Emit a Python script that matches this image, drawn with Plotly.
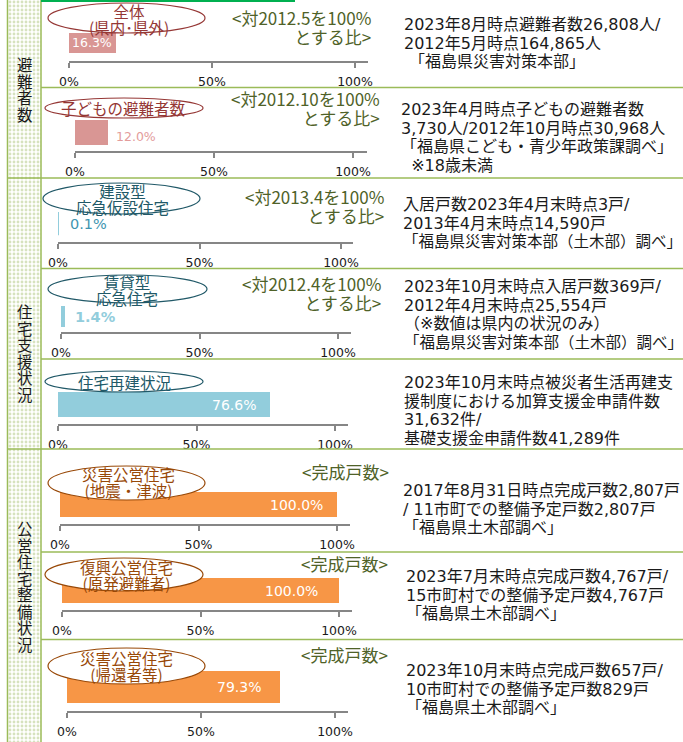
import plotly.graph_objects as go

W, H = 683, 742

# ---------------- data ----------------
panel_names = [
    "全体（県内・県外）", "子どもの避難者数", "建設型応急仮設住宅", "賃貸型応急住宅",
    "住宅再建状況", "災害公営住宅（地震・津波）", "復興公営住宅（原発避難者）", "災害公営住宅（帰還者等）",
]
ratio_pct = [16.3, 12.0, 0.1, 1.4, 76.6, 100.0, 100.0, 79.3]

badge_lines = [
    ["全体", "(県内･県外)"],
    ["子どもの避難者数"],
    ["建設型", "応急仮設住宅"],
    ["賃貸型", "応急住宅"],
    ["住宅再建状況"],
    ["災害公営住宅", "(地震・津波)"],
    ["復興公営住宅", "(原発避難者)"],
    ["災害公営住宅", "(帰還者等)"],
]
basis_lines = [
    ["&lt;対2012.5を100%", "とする比&gt;"],
    ["&lt;対2012.10を100%", "とする比&gt;"],
    ["&lt;対2013.4を100%", "とする比&gt;"],
    ["&lt;対2012.4を100%", "とする比&gt;"],
    [],
    ["&lt;完成戸数&gt;"],
    ["&lt;完成戸数&gt;"],
    ["&lt;完成戸数&gt;"],
]
tick_vals = [0, 50, 100]
tick_text = ["0%", "50%", "100%"]

group_titles = ["避難者数", "住宅支援状況", "公営住宅整備状況"]

note_lines = [
    ["2023年8月時点避難者数26,808人/", "2012年5月時点164,865人", "「福島県災害対策本部」"],
    ["2023年4月時点子どもの避難者数", "3,730人/2012年10月時点30,968人",
     "「福島県こども・青少年政策課調べ」", "※18歳未満"],
    ["入居戸数2023年4月末時点3戸/", "2013年4月末時点14,590戸", "「福島県災害対策本部（土木部）調べ」"],
    ["2023年10月末時点入居戸数369戸/", "2012年4月末時点25,554戸",
     "（※数値は県内の状況のみ）", "「福島県災害対策本部（土木部）調べ」"],
    ["2023年10月末時点被災者生活再建支", "援制度における加算支援金申請件数",
     "31,632件/", "基礎支援金申請件数41,289件"],
    ["2017年8月31日時点完成戸数2,807戸", "/ 11市町での整備予定戸数2,807戸", "「福島県土木部調べ」"],
    ["2023年7月末時点完成戸数4,767戸/", "15市町村での整備予定戸数4,767戸", "「福島県土木部調べ」"],
    ["2023年10月末時点完成戸数657戸/", "10市町村での整備予定戸数829戸", "「福島県土木部調べ」"],
]

# ---------------- layout / style ----------------
CJK = "Noto Sans CJK JP"
MIXED = "DejaVu Sans, Noto Sans CJK JP"
GREEN = "#9bbb59"
AXIS_GRAY = "#868686"
TEXT = "#1a1a1a"
OLIVE = "#4f6228"
NBSP = "\u00a0"

themes = {
    "evac": dict(bar="#d99694", badge="#953735"),
    "house": dict(bar="#92cddc", badge="#215968"),
    "public": dict(bar="#f79646", badge="#984807"),
}
panel_theme = ["evac", "evac", "house", "house", "house", "public", "public", "public"]

# pixel geometry: 0% x, 100% x, axis end x, bar top, bar bottom, axis y
geom = [
    (69, 355, 368, 33, 53, 61),
    (75, 353, 367, 120, 145, 151),
    (58, 341, 353, 212, 236, 242),
    (61, 338, 351, 306, 327, 332),
    (58, 335, 348, 392, 417, 424),
    (60, 337, 350, 492, 517, 524),
    (62, 339, 352, 578, 603, 610),
    (67, 335, 348, 671, 703, 711),
]
# outline keeps very short bars visible
bar_outline = [0, 0, 3.5, 0, 0, 0, 0, 0]

# value label: placement, xshift, yshift, color, size, bold
value_style = [
    ("center", 0, 0, "white", 12.5, False),
    ("out", 6, -4, "#e39c9b", 12.5, False),
    ("out", 10, 0, "#3f95b0", 14.5, False),
    ("out", 8, 0, "#92cddc", 14.5, True),
    ("in", -12, 0, "white", 14, False),
    ("in", -12, 0, "white", 14, False),
    ("in", -19, 0, "white", 14, False),
    ("in", -17, 0, "white", 14, False),
]

# badge ellipse: x0, x1, y0, y1, text centre x, text centre y
badge_geom = [
    (48, 205, 3, 33, 129, 18.5),
    (45, 203, 98, 118, 123, 108),
    (43, 200, 183, 214, 122, 198.5),
    (48, 207, 275, 303, 127, 289.5),
    (45, 203, 371, 392, 124, 382),
    (48, 205, 466, 500, 128, 482),
    (45, 203, 558, 591, 126, 574.5),
    (48, 205, 648, 684, 126, 665.5),
]
BADGE_BASE, BADGE_SIZE = 12.3, 15.5

# basis caption: right edge x, centre y
basis_geom = [(372, 27), (381, 108), (385, 206), (382, 292.5), (None, None),
              (390, 471), (389, 563), (389, 654)]
BASIS_BASE, BASIS_SIZE = 14.5, 17

# note blocks: left x, centre y, per-line (indent, size)
note_geom = [
    (403, 42.5, [(0, 16), (0, 16), (1, 16)]),
    (400, 137.5, [(0, 16), (0, 16), (0, 16), (2, 16)]),
    (402, 222.5, [(0, 16), (0, 16), (0, 15.5)]),
    (403, 314.5, [(0, 16), (0, 16), (0, 16), (0, 15.5)]),
    (403, 410, [(0, 16), (0, 16), (0, 16), (0, 16)]),
    (402, 508.5, [(0, 16), (0, 16), (0, 16)]),
    (405, 595, [(0, 16), (0, 16), (0, 16)]),
    (405, 688.5, [(0, 16), (0, 16), (0, 16)]),
]
NOTE_BASE = 14.3

# vertical group titles: x, centre y
group_geom = [(25, 88.5), (25, 352.5), (25, 586)]
GROUP_BASE, GROUP_SIZE = 12.7, 15.5

# separators: start x, y
separators = [(41, 87.5), (7, 178), (41, 268.5), (41, 359), (7, 449), (41, 552), (41, 639.5)]


def px_x(x):
    return x / W


def px_y(y):
    return 1 - y / H


def sized(text, size):
    return f'<span style="font-size:{size}px">{text}</span>'


fig = go.Figure()
layout = dict(
    template="none",
    width=W, height=H,
    margin=dict(l=0, r=0, t=0, b=0, pad=0, autoexpand=False),
    paper_bgcolor="white",
    plot_bgcolor="rgba(0,0,0,0)",
    showlegend=False,
    font=dict(family=CJK, color=TEXT),
    bargap=0,
)
annotations = []
shapes = []

# overlay axis in page pixels for decorations and free text
layout["xaxis9"] = dict(domain=[0, 1], range=[0, W], visible=False, fixedrange=True,
                        anchor="y9", automargin=False)
layout["yaxis9"] = dict(domain=[0, 1], range=[H, 0], visible=False, fixedrange=True,
                        anchor="x9", automargin=False)

# dotted group-title column
fig.add_trace(go.Bar(
    x=[24.25], y=[H], base=[0], width=[32.5], xaxis="x9", yaxis="y9",
    hoverinfo="skip", name="",
    marker=dict(color="white", line=dict(width=0),
                pattern=dict(shape=".", fgcolor="#adc67e", bgcolor="white",
                             size=4, solidity=0.4, fillmode="overlay")),
))

for i, (name, v) in enumerate(zip(panel_names, ratio_pct)):
    s = "" if i == 0 else str(i + 1)
    x0, x100, xend, btop, bbot, ay = geom[i]
    th = themes[panel_theme[i]]
    span = (xend - x0) / (x100 - x0) * 100
    hd = ay - btop
    hb = bbot - btop
    layout["xaxis" + s] = dict(
        domain=[px_x(x0), px_x(xend)], range=[0, span], anchor="y" + s,
        showline=True, linecolor=AXIS_GRAY, linewidth=1.5,
        ticks="outside", ticklen=5, tickwidth=1.5, tickcolor=AXIS_GRAY,
        tickvals=tick_vals, ticktext=tick_text, ticklabelstandoff=3,
        tickfont=dict(family=MIXED, size=12.5, color=TEXT),
        showgrid=False, zeroline=False, fixedrange=True, automargin=False,
    )
    layout["yaxis" + s] = dict(
        domain=[px_y(ay), px_y(btop)], range=[0.5 - hd / hb, 0.5], anchor="x" + s,
        visible=False, fixedrange=True, automargin=False,
    )
    fig.add_trace(go.Bar(
        x=[v], y=[0], orientation="h", width=1, name=name,
        xaxis="x" + s, yaxis="y" + s, hoverinfo="skip",
        marker=dict(color=th["bar"], line=dict(color=th["bar"], width=bar_outline[i])),
    ))

    # value label
    mode, xs, ys, col, size, bold = value_style[i]
    label = f"{v:.1f}%"
    if bold:
        label = f"<b>{label}</b>"
    ann = dict(text=label, xref="x" + s, yref="y" + s, y=0, showarrow=False,
               xshift=xs, yshift=ys, yanchor="middle",
               font=dict(family=MIXED, size=size, color=col))
    if mode == "center":
        ann.update(x=v / 2, xanchor="center")
    elif mode == "out":
        ann.update(x=v, xanchor="left")
    else:
        ann.update(x=v, xanchor="right")
    annotations.append(ann)

    # badge ellipse with its caption
    ex0, ex1, ey0, ey1, tx, ty = badge_geom[i]
    shapes.append(dict(type="circle", xref="x9", yref="y9", x0=ex0, x1=ex1, y0=ey0, y1=ey1,
                       fillcolor="white", line=dict(color=th["badge"], width=1.2), layer="above"))
    annotations.append(dict(
        text="<br>".join(sized(t, BADGE_SIZE) for t in badge_lines[i]),
        xref="x9", yref="y9", x=tx, y=ty, showarrow=False, align="center",
        xanchor="center", yanchor="middle", borderpad=0,
        font=dict(family=CJK, size=BADGE_BASE, color=th["badge"])))

    # basis caption
    bx, by = basis_geom[i]
    if basis_lines[i]:
        annotations.append(dict(
            text="<br>".join(sized(t, BASIS_SIZE) for t in basis_lines[i]),
            xref="x9", yref="y9", x=bx, y=by, showarrow=False, align="right",
            xanchor="right", yanchor="middle", borderpad=0,
            font=dict(family=CJK, size=BASIS_BASE, color=OLIVE)))

    # source notes on the right
    nx, ny, fmt = note_geom[i]
    block = "<br>".join(sized(NBSP * ind + t, sz) for t, (ind, sz) in zip(note_lines[i], fmt))
    annotations.append(dict(
        text=block, xref="x9", yref="y9", x=nx, y=ny, showarrow=False, align="left",
        xanchor="left", yanchor="middle", borderpad=0,
        font=dict(family=MIXED, size=NOTE_BASE, color=TEXT)))

# vertical group titles
for title, (gx, gy) in zip(group_titles, group_geom):
    annotations.append(dict(
        text="<br>".join(sized(ch, GROUP_SIZE) for ch in title),
        xref="x9", yref="y9", x=gx, y=gy, showarrow=False, align="center",
        xanchor="center", yanchor="middle", borderpad=0,
        font=dict(family=CJK, size=GROUP_BASE, color=TEXT)))

# frame lines
shapes.append(dict(type="line", xref="x9", yref="y9", x0=7.5, x1=7.5, y0=0, y1=H,
                   line=dict(color=GREEN, width=1.5)))
shapes.append(dict(type="line", xref="x9", yref="y9", x0=41, x1=41, y0=0, y1=H,
                   line=dict(color=GREEN, width=1.5)))
for sx, sy in separators:
    shapes.append(dict(type="line", xref="x9", yref="y9", x0=sx, x1=W, y0=sy, y1=sy,
                       line=dict(color=GREEN, width=1.5)))
shapes.append(dict(type="line", xref="x9", yref="y9", x0=41, x1=295, y0=1, y1=1,
                   line=dict(color="#00b050", width=2)))

layout["annotations"] = annotations
layout["shapes"] = shapes
fig.update_layout(**layout)

fig.write_html("out.html")
